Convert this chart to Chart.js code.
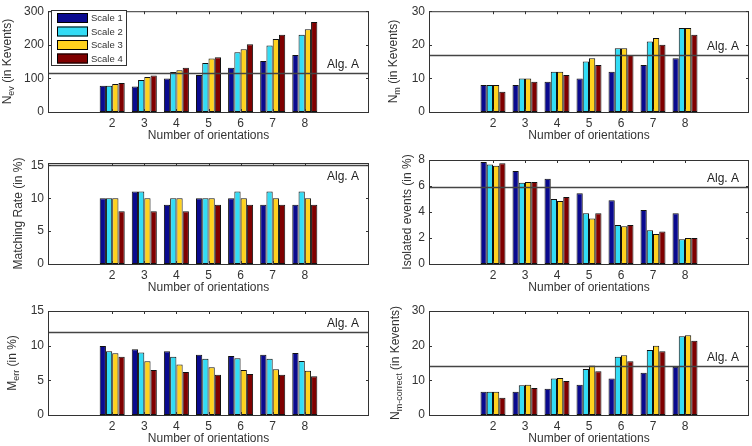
<!DOCTYPE html>
<html>
<head>
<meta charset="utf-8">
<script src="https://cdn.jsdelivr.net/npm/chart.js@4"></script>
<style>
  html, body { margin: 0; padding: 0; background: #fff; }
  #wrap { position: relative; width: 752px; height: 446px; overflow: hidden; background: #fff; }
  #wrap canvas { position: absolute; }
</style>
</head>
<body>
<div id="wrap">
  <canvas id="p1"></canvas>
  <canvas id="p2"></canvas>
  <canvas id="p3"></canvas>
  <canvas id="p4"></canvas>
  <canvas id="p5"></canvas>
  <canvas id="p6"></canvas>
</div>
<script>
// ---- data ----
const orientations = [2, 3, 4, 5, 6, 7, 8];
const scaleLabels = ["Scale 1", "Scale 2", "Scale 3", "Scale 4"];
const scaleColors = ["#0a0a8f", "#33dcf5", "#ffd21e", "#7f0000"];

// one row per scale
const nEvents = [
  [78, 76, 100, 110, 132, 152, 170],
  [78, 95, 119, 146, 178, 198, 230],
  [83, 104, 124, 159, 187, 217, 246],
  [86, 109, 132, 163, 202, 230, 268]
];
const nMatched = [
  [8, 8, 9, 10, 12, 14, 16],
  [8, 10, 12, 15, 19, 21, 25],
  [8, 10, 12, 16, 19, 22, 25],
  [6, 9, 11, 14, 17, 20, 23]
];
const matchingRate = [
  [10, 11, 9, 10, 10, 9, 9],
  [10, 11, 10, 10, 11, 11, 11],
  [10, 10, 10, 10, 10, 10, 10],
  [8, 8, 8, 9, 9, 9, 9]
];
const isolatedEvents = [
  [7.85, 7.15, 6.55, 5.45, 4.9, 4.15, 3.9],
  [7.65, 6.25, 5.0, 3.9, 3.0, 2.6, 1.9],
  [7.55, 6.3, 4.85, 3.5, 2.9, 2.3, 2.0],
  [7.75, 6.3, 5.15, 3.9, 3.0, 2.5, 2.0]
];
const mErr = [
  [9.95, 9.5, 9.2, 8.7, 8.5, 8.7, 8.95],
  [9.2, 9.0, 8.4, 8.1, 8.2, 8.1, 7.8],
  [8.9, 7.75, 7.3, 6.9, 6.5, 6.6, 6.4],
  [8.4, 6.5, 6.2, 5.8, 5.9, 5.8, 5.6]
];
const nCorrect = [
  [6.7, 6.7, 7.6, 8.75, 10.5, 12.2, 13.9],
  [6.7, 8.6, 10.5, 13.3, 16.8, 18.75, 22.7],
  [6.7, 8.7, 10.7, 14.3, 17.2, 20.0, 23.0],
  [5.0, 7.8, 9.8, 12.6, 15.5, 18.4, 21.4]
];
// reference level of Alg. A in each panel
const algA = [116, 17, 15, 5.9, 12, 14];
const xTitle = "Number of orientations";

// ---- layout ----
const FONT = '"Liberation Sans", Arial, Helvetica, sans-serif';
const INK = "#333";

const panels = [
  { id: "p1", values: nEvents, alg: algA[0], yMax: 300, step: 100,
    box: [0, 0, 376, 148], plot: { left: 48, right: 369, top: 7, bottom: 112 },
    title: [{ t: "N" }, { t: "ev", sub: true }, { t: " (in Kevents)" }], titleX: 8, legend: true },
  { id: "p2", values: nMatched, alg: algA[1], yMax: 30, step: 10,
    box: [376, 0, 376, 148], plot: { left: 429, right: 749, top: 7, bottom: 112 },
    title: [{ t: "N" }, { t: "m", sub: true }, { t: " (in Kevents)" }], titleX: 18 },
  { id: "p3", values: matchingRate, alg: algA[2], yMax: 15.35, step: 5, algBelow: true,
    box: [0, 148, 376, 148], plot: { left: 48, right: 369, top: 163, bottom: 264 },
    title: [{ t: "Matching Rate (in %)" }], titleX: 19 },
  { id: "p4", values: isolatedEvents, alg: algA[3], yMax: 8, step: 2,
    box: [376, 148, 376, 148], plot: { left: 429, right: 749, top: 160, bottom: 264 },
    title: [{ t: "Isolated events (in %)" }], titleX: 32 },
  { id: "p5", values: mErr, alg: algA[4], yMax: 15, step: 5,
    box: [0, 296, 376, 150], plot: { left: 48, right: 369, top: 311, bottom: 415 },
    title: [{ t: "M" }, { t: "err", sub: true }, { t: " (in %)" }], titleX: 13 },
  { id: "p6", values: nCorrect, alg: algA[5], yMax: 30, step: 10,
    box: [376, 296, 376, 150], plot: { left: 429, right: 749, top: 311, bottom: 415 },
    title: [{ t: "N" }, { t: "m-correct", sub: true }, { t: " (in Kevents)" }], titleX: 20 }
];

function drawYTitle(ctx, parts, x, yc) {
  ctx.save();
  ctx.translate(x, yc);
  ctx.rotate(-Math.PI / 2);
  ctx.fillStyle = INK;
  ctx.textAlign = "left";
  ctx.textBaseline = "middle";
  let total = 0;
  parts.forEach(p => {
    ctx.font = (p.sub ? "9px " : "12px ") + FONT;
    p.w = ctx.measureText(p.t).width;
    total += p.w;
  });
  let px = -total / 2;
  parts.forEach(p => {
    ctx.font = (p.sub ? "9px " : "12px ") + FONT;
    ctx.fillText(p.t, px, p.sub ? 4 : 0);
    px += p.w;
  });
  ctx.restore();
}

function drawLegend(ctx, chart) {
  // legend box sits inside the top-left of the first panel
  const lx = 51, ly = 10, lw = 75, lh = 55;
  ctx.save();
  ctx.fillStyle = "#fff";
  ctx.fillRect(lx, ly, lw, lh);
  ctx.strokeStyle = INK;
  ctx.lineWidth = 1;
  ctx.strokeRect(lx + 0.5, ly + 0.5, lw, lh);
  ctx.font = "9.5px " + FONT;
  ctx.textBaseline = "middle";
  ctx.textAlign = "left";
  chart.data.datasets.forEach((ds, k) => {
    const ry = 13 + k * 13.5;
    ctx.fillStyle = ds.backgroundColor;
    ctx.fillRect(57, ry, 31, 10);
    ctx.strokeStyle = "#000";
    ctx.strokeRect(57.5, ry + 0.5, 30, 9);
    ctx.fillStyle = INK;
    ctx.fillText(ds.label, 91, ry + 5.5);
  });
  ctx.restore();
}

function makePanel(p) {
  const [cx, cy, cw, ch] = p.box;
  const cv = document.getElementById(p.id);
  cv.width = cw;
  cv.height = ch;
  cv.style.left = cx + "px";
  cv.style.top = cy + "px";
  const plot = {
    left: p.plot.left - cx, right: p.plot.right - cx,
    top: p.plot.top - cy, bottom: p.plot.bottom - cy
  };

  const decor = {
    id: "decor",
    afterDatasetsDraw(chart) {
      const ctx = chart.ctx;
      const a = chart.chartArea;
      const xs = chart.scales.x, ys = chart.scales.y;
      ctx.save();
      // Alg. A reference line
      const ly = Math.round(ys.getPixelForValue(p.alg)) + 0.5;
      ctx.strokeStyle = "#444";
      ctx.lineWidth = 1.3;
      ctx.beginPath();
      ctx.moveTo(a.left, ly);
      ctx.lineTo(a.right, ly);
      ctx.stroke();
      ctx.fillStyle = "#222";
      ctx.font = "12px " + FONT;
      ctx.textAlign = "right";
      ctx.textBaseline = "alphabetic";
      ctx.fillText("Alg. A", a.right - 10, p.algBelow ? ly + 14 : ly - 6);

      // axes box with inward ticks
      ctx.strokeStyle = INK;
      ctx.lineWidth = 1;
      ctx.strokeRect(a.left + 0.5, a.top + 0.5, a.right - a.left - 1, a.bottom - a.top);
      ctx.beginPath();
      xs.ticks.forEach(t => {
        const x = Math.round(xs.getPixelForValue(t.value)) + 0.5;
        ctx.moveTo(x, a.bottom); ctx.lineTo(x, a.bottom - 3);
        ctx.moveTo(x, a.top); ctx.lineTo(x, a.top + 3);
      });
      ys.ticks.forEach(t => {
        const y = Math.round(ys.getPixelForValue(t.value)) + 0.5;
        ctx.moveTo(a.left, y); ctx.lineTo(a.left + 3, y);
        ctx.moveTo(a.right, y); ctx.lineTo(a.right - 3, y);
      });
      ctx.stroke();

      // axis titles
      ctx.fillStyle = INK;
      ctx.font = "12px " + FONT;
      ctx.textAlign = "center";
      ctx.textBaseline = "middle";
      ctx.fillText(xTitle, (a.left + a.right) / 2, a.bottom + 24);
      drawYTitle(ctx, p.title, p.titleX, (a.top + a.bottom) / 2);
      ctx.restore();

      if (p.legend) drawLegend(ctx, chart);
    }
  };

  new Chart(cv, {
    type: "bar",
    data: {
      datasets: p.values.map((vals, k) => ({
        label: scaleLabels[k],
        data: orientations.map((o, i) => ({ x: o, y: vals[i] })),
        backgroundColor: scaleColors[k],
        borderColor: "#111",
        borderWidth: 1,
        borderSkipped: false,
        categoryPercentage: 0.78,
        barPercentage: 1
      }))
    },
    options: {
      responsive: false,
      animation: false,
      devicePixelRatio: 1,
      layout: { padding: { left: 0, top: plot.top, right: cw - plot.right, bottom: 0 } },
      plugins: { legend: { display: false }, tooltip: { enabled: false } },
      scales: {
        x: {
          type: "linear", min: 0, max: 10, offset: false,
          grid: { display: false, drawTicks: false, offset: false }, border: { display: false },
          afterBuildTicks: s => { s.ticks = orientations.map(v => ({ value: v })); },
          afterFit: s => { s.height = ch - plot.bottom; },
          ticks: { color: INK, font: { family: FONT, size: 12 }, padding: 4, maxRotation: 0, autoSkip: false }
        },
        y: {
          min: 0, max: p.yMax,
          grid: { display: false, drawTicks: false }, border: { display: false },
          afterFit: s => { s.width = plot.left; },
          ticks: { stepSize: p.step, includeBounds: false, color: INK, font: { family: FONT, size: 12 }, padding: 4 }
        }
      }
    },
    plugins: [decor]
  });
}

panels.forEach(makePanel);
</script>
</body>
</html>
